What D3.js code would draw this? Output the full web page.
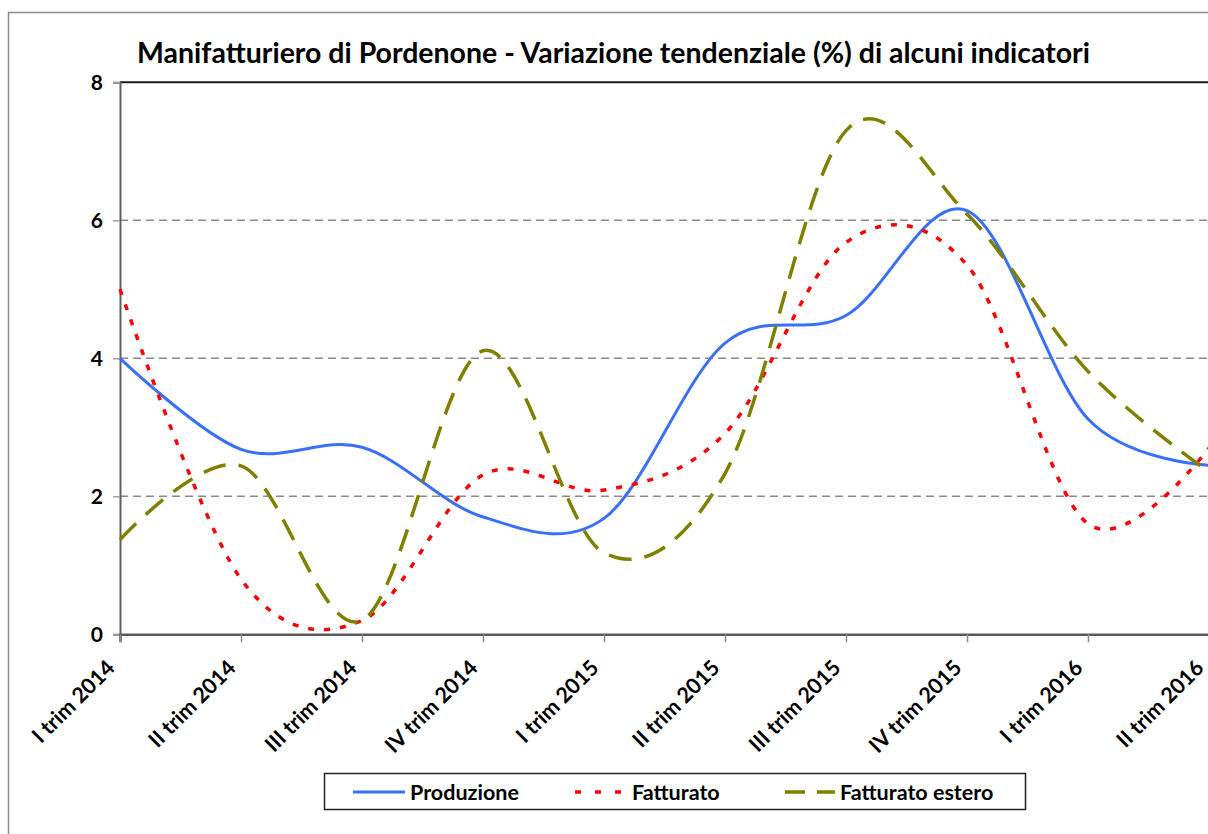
<!DOCTYPE html>
<html>
<head>
<meta charset="utf-8">
<script src="https://cdn.jsdelivr.net/npm/d3@7"></script>
<style>
  html, body { margin: 0; padding: 0; background: #fff; }
  svg { display: block; }
  text { font-family: Lato, "Liberation Sans", sans-serif; font-weight: bold; fill: #000; }
</style>
</head>
<body>
<script>
const categories = ["I trim 2014","II trim 2014","III trim 2014","IV trim 2014","I trim 2015","II trim 2015","III trim 2015","IV trim 2015","I trim 2016","II trim 2016"];
const produzione = [4.0, 2.68, 2.71, 1.70, 1.68, 4.22, 4.62, 6.14, 3.12, 2.45];
const fatturato  = [5.0, 0.80, 0.20, 2.31, 2.09, 2.91, 5.68, 5.35, 1.60, 2.70];
const estero     = [1.37, 2.44, 0.20, 4.11, 1.18, 2.33, 7.30, 6.09, 3.81, 2.35];
const yTicks = [0, 2, 4, 6, 8];
const seriesNames = ["Produzione", "Fatturato", "Fatturato estero"];
const titleText = "Manifatturiero di Pordenone  - Variazione tendenziale (%) di alcuni indicatori";

const W = 1208, H = 834;
const svg = d3.select("body").append("svg").attr("width", W).attr("height", H);

function fitSize(t, target) {
  const w = t.node().getComputedTextLength();
  const fs = parseFloat(t.style("font-size"));
  return fs * target / w;
}

// chart area border
svg.append("rect").attr("x", 8.5).attr("y", 12.5).attr("width", 1400).attr("height", 1000)
  .attr("fill", "#fff").attr("stroke", "#8c8c8c").attr("stroke-width", 1.5);

const x = d3.scalePoint().domain(categories).range([120, 1209]);
const y = d3.scaleLinear().domain([0, 8]).range([634.3, 82.3]);

// gridlines
svg.append("g").selectAll("line").data(yTicks.filter(v => v > 0 && v < 8)).join("line")
  .attr("x1", 120).attr("x2", W).attr("y1", d => y(d)).attr("y2", d => y(d))
  .attr("stroke", "#8a8a8a").attr("stroke-width", 1.5).attr("stroke-dasharray", "8,5");
// top border line at 8
svg.append("line").attr("x1", 120).attr("x2", W).attr("y1", y(8)).attr("y2", y(8))
  .attr("stroke", "#1a1a1a").attr("stroke-width", 2);

// y axis
const yAxis = svg.append("g").attr("transform", "translate(120,0)")
  .call(d3.axisLeft(y).tickValues(yTicks).tickSize(7).tickPadding(10).tickFormat(d3.format("d")));
yAxis.select(".domain").attr("stroke", "#5f5f5f").attr("stroke-width", 2);
yAxis.selectAll(".tick line").attr("stroke", "#a0a0a0").attr("stroke-width", 1.5);
yAxis.selectAll(".tick text").style("font-size", "21px").attr("dy", "0.36em");

// x axis
const xAxis = svg.append("g").attr("transform", `translate(0,${y(0)})`)
  .call(d3.axisBottom(x).tickSize(8).tickFormat(""));
xAxis.select(".domain").attr("stroke", "#5a5a5a").attr("stroke-width", 2.5);
xAxis.selectAll(".tick line").attr("stroke", "#8a8a8a").attr("stroke-width", 1.5);

const xl = svg.append("g").selectAll("text").data(categories).join("text")
  .attr("transform", d => `translate(${x(d) - 4},${y(0) + 35}) rotate(-45)`)
  .attr("text-anchor", "end")
  .style("font-size", "20px")
  .text(d => d);
const xfs = fitSize(xl.filter((d, i) => i === 0), 106);
xl.style("font-size", xfs + "px");

// lines
const curve = d3.curveCardinal.tension(0);
const line = d3.line().x((d, i) => x(categories[i])).y(d => y(d)).curve(curve);

const styles = [
  { data: produzione, color: "#3a6ff7", width: 3, dash: null },
  { data: fatturato,  color: "#ff0000", width: 3.5, dash: "6,10" },
  { data: estero,     color: "#808000", width: 3.5, dash: "23,13" }
];
styles.forEach(s => {
  svg.append("path").attr("d", line(s.data)).attr("fill", "none")
    .attr("stroke", s.color).attr("stroke-width", s.width)
    .attr("stroke-dasharray", s.dash);
});

// title
const title = svg.append("text").attr("x", 613.5).attr("y", 63).attr("text-anchor", "middle")
  .style("font-size", "25px").text(titleText);
title.style("font-size", fitSize(title, 953) + "px");

// legend
const lg = svg.append("g");
lg.append("rect").attr("x", 324.5).attr("y", 773.5).attr("width", 701).attr("height", 36)
  .attr("fill", "#fff").attr("stroke", "#222").attr("stroke-width", 1.5);
const legItems = [
  { x0: 353, x1: 405, tx: 410 },
  { x0: 575, x1: 625, tx: 632 },
  { x0: 785, x1: 835, tx: 840 }
];
const legTexts = [];
legItems.forEach((it, i) => {
  const s = styles[i];
  lg.append("line").attr("x1", it.x0).attr("x2", it.x1).attr("y1", 792).attr("y2", 792)
    .attr("stroke", s.color).attr("stroke-width", s.width)
    .attr("stroke-dasharray", i === 1 ? "6,14" : (i === 2 ? "20,12" : null));
  legTexts.push(lg.append("text").attr("x", it.tx).attr("y", 800).style("font-size", "20px").text(seriesNames[i]));
});
const lfs = fitSize(legTexts[0], 109);
legTexts.forEach(t => t.style("font-size", lfs + "px"));
</script>
</body>
</html>
